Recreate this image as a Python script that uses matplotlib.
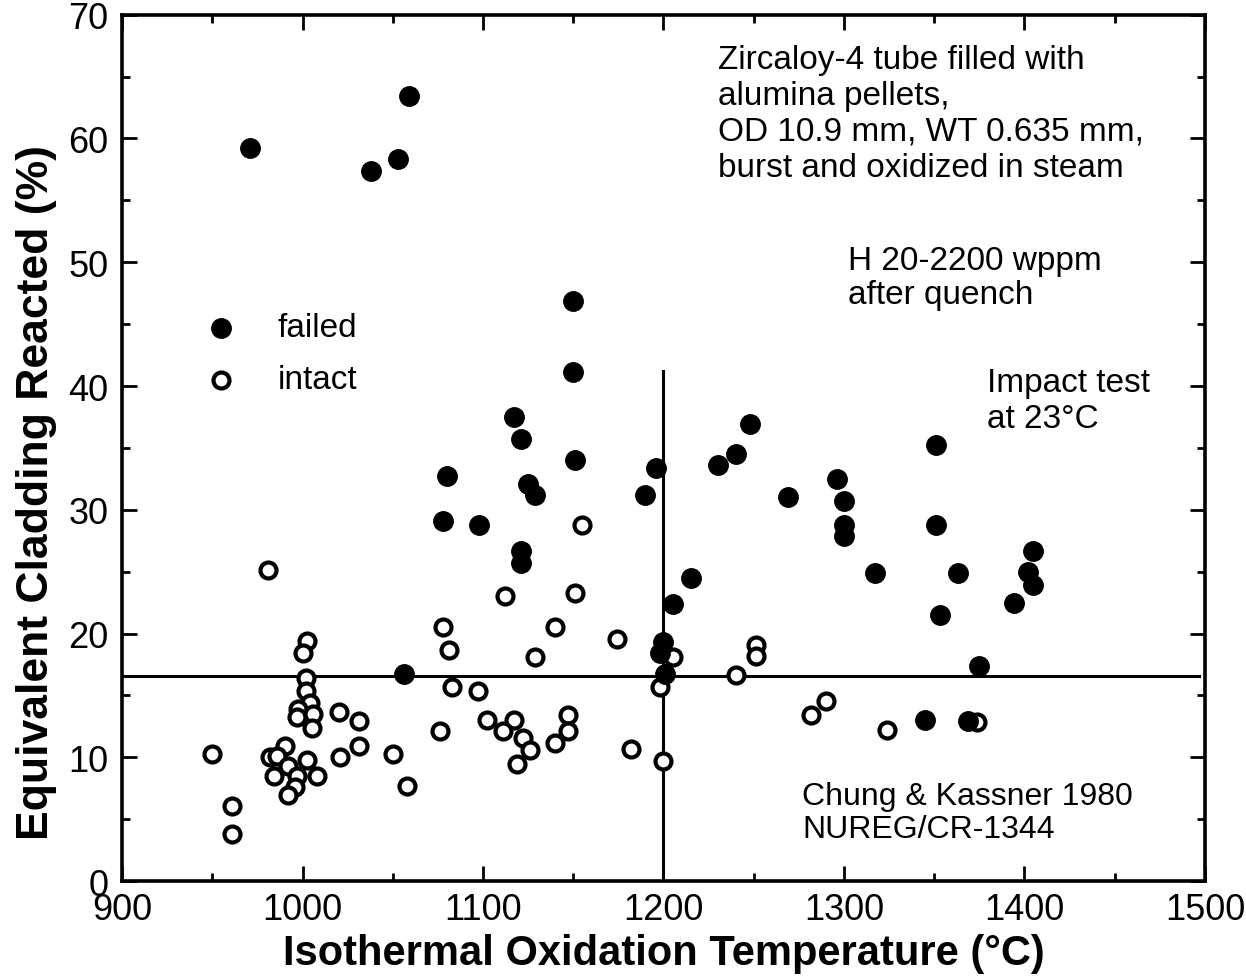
import matplotlib.pyplot as plt
from matplotlib.ticker import MultipleLocator

plt.rcParams['font.family'] = ['Liberation Sans', 'DejaVu Sans']

# failed specimens (filled)
failed_T = [971, 1038, 1053, 1059, 1150, 1150, 1117, 1121, 1151, 1080,
            1125, 1129, 1196, 1190, 1078, 1098, 1121, 1121, 1056, 1248,
            1240, 1230, 1269, 1296, 1300, 1300, 1300, 1351, 1351, 1317,
            1363, 1353, 1215, 1205, 1345, 1405, 1402, 1405, 1394, 1375,
            1369, 1200, 1198, 1201]
failed_ecr = [59.2, 57.4, 58.3, 63.4, 46.9, 41.1, 37.5, 35.7, 34.0, 32.7,
              32.1, 31.2, 33.4, 31.2, 29.1, 28.8, 26.7, 25.7, 16.7, 36.9,
              34.5, 33.6, 31.0, 32.5, 30.7, 28.8, 27.9, 35.2, 28.8, 24.9,
              24.9, 21.5, 24.5, 22.4, 13.0, 26.7, 25.0, 23.9, 22.5, 17.4,
              12.9, 19.3, 18.4, 16.7]

# intact specimens (open)
intact_T = [981, 1002.5, 1000, 1002, 1002, 1004, 997.5, 997, 1006, 1005,
            1020, 1031, 1031, 1021, 950, 990, 982, 986, 992, 1002.5,
            984, 997, 1008, 996, 992, 961, 961, 1155, 1112, 1151,
            1078, 1140, 1174, 1081, 1129, 1083, 1097, 1102, 1117, 1147,
            1076, 1111, 1122, 1147, 1126, 1140, 1182, 1050, 1119, 1200,
            1058, 1205, 1198, 1251, 1251, 1240, 1290, 1282, 1324, 1374]
intact_ecr = [25.1, 19.4, 18.4, 16.4, 15.4, 14.4, 13.9, 13.3, 13.5, 12.4,
              13.7, 12.9, 10.9, 10.0, 10.3, 10.9, 10.0, 10.1, 9.3, 9.8,
              8.5, 8.5, 8.5, 7.6, 7.0, 6.1, 3.8, 28.8, 23.0, 23.3,
              20.5, 20.5, 19.6, 18.7, 18.1, 15.7, 15.4, 13.0, 13.0, 13.4,
              12.1, 12.1, 11.6, 12.1, 10.6, 11.2, 10.7, 10.3, 9.5, 9.7,
              7.7, 18.1, 15.7, 19.1, 18.2, 16.65, 14.55, 13.4, 12.2, 12.85]

ecr_limit = 16.6
temp_limit = 1200
vline_top = 41.2

fig = plt.figure(figsize=(12.46, 9.78), dpi=100)
ax = fig.add_axes([0.098, 0.098, 0.869, 0.886])

ax.axhline(ecr_limit, xmin=0, xmax=0.995, color='black', lw=2.2, zorder=1)
ax.plot([temp_limit, temp_limit], [0, vline_top], color='black', lw=2.2, zorder=1)

ax.plot(intact_T, intact_ecr, 'o', ms=11.5, mfc='white', mec='black', mew=3, zorder=2)
ax.plot(failed_T, failed_ecr, 'o', ms=14, mfc='black', mec='black', mew=1, zorder=3)

# legend drawn by hand like the original
ax.plot([955], [44.7], 'o', ms=14, mfc='black', mec='black', mew=1)
ax.plot([955], [40.5], 'o', ms=11.5, mfc='white', mec='black', mew=3)
ax.text(986, 44.7, 'failed', fontsize=24, va='center')
ax.text(986, 40.5, 'intact', fontsize=24, va='center')

ax.text(1230, 67.6, 'Zircaloy-4 tube filled with\nalumina pellets,\nOD 10.9 mm, WT 0.635 mm,\nburst and oxidized in steam',
        fontsize=24, va='top', linespacing=1.2)
ax.text(1302, 51.4, 'H 20-2200 wppm\nafter quench', fontsize=24, va='top', linespacing=1.15)
ax.text(1379, 41.5, 'Impact test\nat 23°C', fontsize=24, va='top', linespacing=1.2)
ax.text(1277, 8.1, 'Chung & Kassner 1980\nNUREG/CR-1344', fontsize=23, va='top', linespacing=1.15)

ax.set_xlim(900, 1500)
ax.set_ylim(0, 70)
ax.xaxis.set_major_locator(MultipleLocator(100))
ax.xaxis.set_minor_locator(MultipleLocator(50))
ax.yaxis.set_major_locator(MultipleLocator(10))
ax.yaxis.set_minor_locator(MultipleLocator(5))
ax.tick_params(which='both', direction='in', top=True, right=True, width=2)
ax.tick_params(which='major', length=11, labelsize=26)
ax.tick_params(axis='x', which='major', pad=8)
ax.tick_params(axis='y', which='major', pad=10)
ax.tick_params(which='minor', length=6)
for s in ax.spines.values():
    s.set_linewidth(2.6)

ax.set_xlabel('Isothermal Oxidation Temperature (°C)', fontsize=30, fontweight='bold', labelpad=4)
ax.set_ylabel('Equivalent Cladding Reacted (%)', fontsize=32, fontweight='bold')
ax.yaxis.set_label_coords(-0.06, 0.45)

fig.savefig('out.png', dpi=100)
